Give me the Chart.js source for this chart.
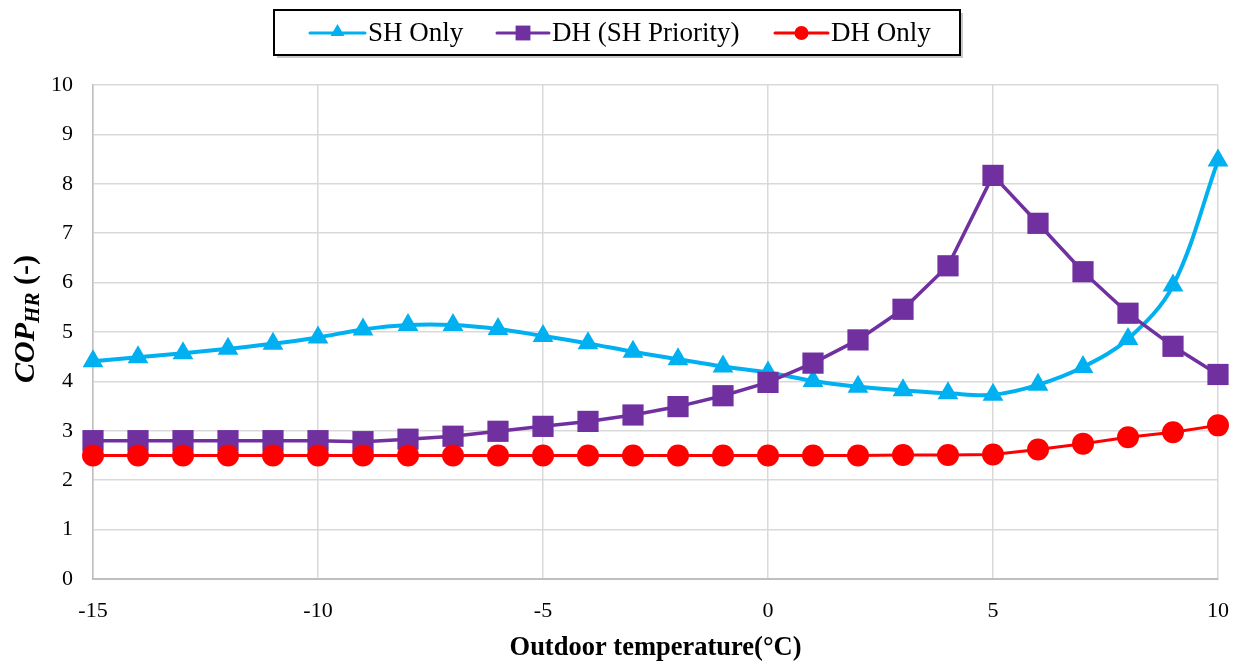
<!DOCTYPE html>
<html>
<head>
<meta charset="utf-8">
<script src="https://cdn.jsdelivr.net/npm/chart.js@4.4.1/dist/chart.umd.min.js"></script>
<style>
html,body{margin:0;padding:0;background:#fff;}
#wrap{width:1240px;height:664px;position:relative;}
</style>
</head>
<body>
<div id="wrap"><canvas id="c" width="1240" height="664"></canvas></div>
<script>
const temps = [-15,-14,-13,-12,-11,-10,-9,-8,-7,-6,-5,-4,-3,-2,-1,0,1,2,3,4,5,6,7,8,9,10];
const shOnly = [4.41,4.49,4.57,4.66,4.76,4.89,5.05,5.14,5.14,5.06,4.92,4.77,4.60,4.45,4.30,4.18,4.01,3.89,3.82,3.76,3.73,3.93,4.29,4.86,5.94,8.47];
const dhShPriority = [2.80,2.80,2.80,2.80,2.80,2.80,2.78,2.83,2.89,2.99,3.09,3.19,3.32,3.49,3.71,3.98,4.37,4.84,5.46,6.34,8.17,7.20,6.22,5.38,4.71,4.14];
const dhOnly = [2.50,2.50,2.50,2.50,2.50,2.50,2.50,2.50,2.50,2.50,2.50,2.50,2.50,2.50,2.50,2.50,2.50,2.50,2.51,2.51,2.52,2.62,2.74,2.87,2.97,3.11];
const seriesNames = ['SH Only','DH (SH Priority)','DH Only'];
const xTitle = 'Outdoor temperature(°C)';

const FONT = "'Liberation Serif','Times New Roman',serif";
const toPts = arr => arr.map((v,i)=>({x:temps[i],y:v}));

function drawMarker(ctx, style, x, y, r){
  ctx.beginPath();
  if(style==='triangle'){
    let rad=0;
    ctx.moveTo(x+Math.sin(rad)*r, y-Math.cos(rad)*r);
    rad+=2*Math.PI/3;
    ctx.lineTo(x+Math.sin(rad)*r, y-Math.cos(rad)*r);
    rad+=2*Math.PI/3;
    ctx.lineTo(x+Math.sin(rad)*r, y-Math.cos(rad)*r);
    ctx.closePath();
  } else if(style==='rect'){
    const s=Math.SQRT1_2*r;
    ctx.rect(x-s,y-s,2*s,2*s);
  } else {
    ctx.arc(x,y,r,0,Math.PI*2);
  }
  ctx.fill();
}

const customPlugin = {
  id:'customDecor',
  afterDraw(chart){
    const ctx = chart.ctx;
    ctx.save();
    // legend box
    const bx=274, by=10, bw=686, bh=45;
    ctx.fillStyle='#c8c8c8';
    ctx.fillRect(bx+3,by+3,bw,bh);
    ctx.fillStyle='#ffffff';
    ctx.fillRect(bx,by,bw,bh);
    ctx.strokeStyle='#000';
    ctx.lineWidth=2;
    ctx.strokeRect(bx,by,bw,bh);
    const items = [
      {ds:chart.data.datasets[0], x0:310, x1:365, tx:368, r:8, cy:-1},
      {ds:chart.data.datasets[1], x0:497, x1:549, tx:552, r:10.5, cy:0},
      {ds:chart.data.datasets[2], x0:775, x1:828, tx:831, r:7, cy:0}
    ];
    const ly = 33;
    ctx.font = "27px "+FONT;
    ctx.textBaseline='middle';
    ctx.textAlign='left';
    ctx.lineCap='round';
    items.forEach(it=>{
      ctx.strokeStyle=it.ds.borderColor;
      ctx.lineWidth=3;
      ctx.beginPath(); ctx.moveTo(it.x0,ly); ctx.lineTo(it.x1,ly); ctx.stroke();
      ctx.fillStyle=it.ds.pointBackgroundColor;
      drawMarker(ctx,it.ds.pointStyle,(it.x0+it.x1)/2,ly+it.cy,it.r);
      ctx.fillStyle='#000';
      ctx.fillText(it.ds.label,it.tx,ly+1);
    });
    // y axis title with subscript
    ctx.translate(24,319);
    ctx.rotate(-Math.PI/2);
    ctx.fillStyle='#000';
    ctx.textBaseline='alphabetic';
    const f1="italic bold 30px "+FONT, f2="italic bold 21px "+FONT, f3="bold 30px "+FONT;
    ctx.font=f1; const w1=ctx.measureText('COP').width;
    ctx.font=f2; const w2=ctx.measureText('HR').width;
    ctx.font=f3; const w3=ctx.measureText(' (-)').width;
    let sx=-(w1+w2+w3)/2;
    const base=10;
    ctx.font=f1; ctx.fillText('COP',sx,base); sx+=w1;
    ctx.font=f2; ctx.fillText('HR',sx,base+5); sx+=w2;
    ctx.font=f3; ctx.fillText(' (-)',sx,base);
    ctx.restore();
  }
};

new Chart(document.getElementById('c'),{
  type:'line',
  data:{
    datasets:[
      {label:seriesNames[0], data:toPts(shOnly), borderColor:'#00B0F0', backgroundColor:'#00B0F0',
       pointBackgroundColor:'#00B0F0', pointBorderColor:'#00B0F0', borderWidth:4, pointStyle:'triangle',
       pointRadius:12, pointBorderWidth:0, tension:0.35, clip:false, order:3},
      {label:seriesNames[1], data:toPts(dhShPriority), borderColor:'#7030A0', backgroundColor:'#7030A0',
       pointBackgroundColor:'#7030A0', pointBorderColor:'#7030A0', borderWidth:3.5, pointStyle:'rect',
       pointRadius:15, pointBorderWidth:0, tension:0, clip:false, order:2},
      {label:seriesNames[2], data:toPts(dhOnly), borderColor:'#FF0000', backgroundColor:'#FF0000',
       pointBackgroundColor:'#FF0000', pointBorderColor:'#FF0000', borderWidth:3, pointStyle:'circle',
       pointRadius:11, pointBorderWidth:0, tension:0, clip:false, order:1}
    ]
  },
  options:{
    responsive:false,
    animation:false,
    layout:{padding:{top:85,right:22,left:0,bottom:0}},
    plugins:{legend:{display:false},tooltip:{enabled:false}},
    scales:{
      x:{type:'linear',min:-15,max:10,
        ticks:{stepSize:5,color:'#000',font:{family:FONT,size:22},padding:19},
        grid:{color:'#d9d9d9',lineWidth:1.5,drawTicks:false},
        border:{color:'#bfbfbf',width:2},
        title:{display:true,text:xTitle,color:'#000',font:{family:FONT,size:26.5,weight:'bold'},padding:{top:4,bottom:0}},
        afterFit(s){s.height=85;s.paddingLeft=0;s.paddingRight=0;}
      },
      y:{min:0,max:10,
        ticks:{stepSize:1,color:'#000',font:{family:FONT,size:22},padding:20},
        grid:{color:'#d9d9d9',lineWidth:1.5,drawTicks:false},
        border:{color:'#bfbfbf',width:1.5},
        afterFit(s){s.width=93;}
      }
    }
  },
  plugins:[customPlugin]
});
</script>
</body>
</html>
